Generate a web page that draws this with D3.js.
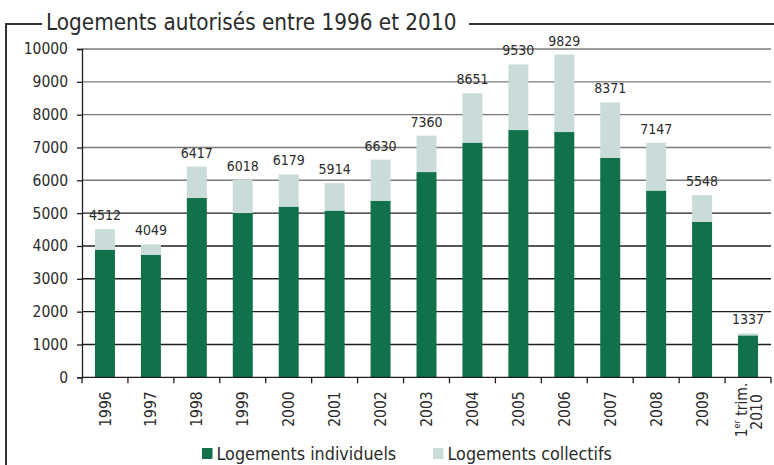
<!DOCTYPE html>
<html lang="fr">
  <head>
    <meta charset="UTF-8" />
    <title>Logements autorisés entre 1996 et 2010</title>
    <script src="https://d3js.org/d3.v7.min.js"></script>
    <style>
      body {
        margin: 0;
        background: #ffffff;
      }
      svg {
        font-family: "DejaVu Sans Condensed", "DejaVu Sans", sans-serif;
        fill: #2b2b2b;
      }
    </style>
  </head>
  <body>
    <div id="chart"></div>
    <script>
      // Data
      const annees = ["1996", "1997", "1998", "1999", "2000", "2001", "2002", "2003",
        "2004", "2005", "2006", "2007", "2008", "2009", "2010"];
      const individuels = [3880, 3725, 5460, 5000, 5190, 5070, 5370, 6250,
        7140, 7530, 7470, 6680, 5680, 4730, 1270];
      const collectifs = [632, 324, 957, 1018, 989, 844, 1260, 1110,
        1511, 2000, 2359, 1691, 1467, 818, 67];
      const totaux = [4512, 4049, 6417, 6018, 6179, 5914, 6630, 7360,
        8651, 9530, 9829, 8371, 7147, 5548, 1337];
      const yTicks = [0, 1000, 2000, 3000, 4000, 5000, 6000, 7000, 8000, 9000, 10000];

      const colIndiv = "#11714a";
      const colCollec = "#c9dcd9";

      const width = 774, height = 465;
      const mLeft = 82, mRight = 771, mTop = 49, mBottom = 377.3;

      const svg = d3.select("#chart").append("svg")
        .attr("width", width).attr("height", height);

      // frame + title
      svg.append("path")
        .attr("d", "M6,465 V24 H42 M469,24 H774")
        .attr("fill", "none").attr("stroke", "#333").attr("stroke-width", 2);
      svg.append("text")
        .attr("x", 46).attr("y", 30)
        .attr("font-size", 22.3)
        .text("Logements autorisés entre 1996 et 2010");

      // scales
      const x = d3.scaleBand().domain(annees).range([mLeft, mRight])
        .paddingInner(0.565).paddingOuter(0.2825);
      const y = d3.scaleLinear().domain([0, 10000]).range([mBottom, mTop]);
      const step = x.step();

      // gridlines
      svg.append("g").selectAll("line").data(yTicks.filter(d => d > 0)).enter()
        .append("line")
        .attr("x1", mLeft).attr("x2", mRight)
        .attr("y1", d => y(d)).attr("y2", d => y(d))
        .attr("stroke", d => d >= 6000 ? "#7a7a7a" : "#1e1e1e")
        .attr("stroke-width", 1.4);

      // y axis
      const yAxis = svg.append("g")
        .attr("transform", `translate(${mLeft},0)`)
        .call(d3.axisLeft(y).tickValues(yTicks).tickSize(5).tickPadding(9).tickFormat(d3.format("d")));
      yAxis.select(".domain").attr("stroke", "#1e1e1e").attr("stroke-width", 1.3);
      yAxis.selectAll(".tick line").attr("stroke", "#1e1e1e").attr("stroke-width", 1.3);
      yAxis.selectAll("text").attr("font-size", 15.5).attr("fill", "#2b2b2b")
        .attr("font-family", "'DejaVu Sans Condensed', 'DejaVu Sans', sans-serif");

      // bars
      const rows = annees.map((a, i) => ({ a, ind: individuels[i], col: collectifs[i], tot: totaux[i] }));
      svg.append("g").selectAll("rect").data(rows).enter().append("rect")
        .attr("x", d => x(d.a)).attr("width", x.bandwidth())
        .attr("y", d => y(d.ind + d.col))
        .attr("height", d => y(d.ind) - y(d.ind + d.col))
        .attr("fill", colCollec);
      svg.append("g").selectAll("rect").data(rows).enter().append("rect")
        .attr("x", d => x(d.a)).attr("width", x.bandwidth())
        .attr("y", d => y(d.ind))
        .attr("height", d => y(0) - y(d.ind))
        .attr("fill", colIndiv);

      // total labels
      svg.append("g").selectAll("text").data(rows).enter().append("text")
        .attr("x", d => x(d.a) + x.bandwidth() / 2)
        .attr("y", d => y(d.ind + d.col) - 9)
        .attr("text-anchor", "middle")
        .attr("font-size", 14)
        .text(d => d.tot);

      // x axis line + ticks
      svg.append("line")
        .attr("x1", mLeft).attr("x2", mRight)
        .attr("y1", mBottom).attr("y2", mBottom)
        .attr("stroke", "#1e1e1e").attr("stroke-width", 1.3);
      svg.append("g").selectAll("line").data(d3.range(annees.length + 1)).enter()
        .append("line")
        .attr("x1", i => mLeft + i * step).attr("x2", i => mLeft + i * step)
        .attr("y1", mBottom).attr("y2", mBottom + 6)
        .attr("stroke", "#1e1e1e").attr("stroke-width", 1.3);

      // x labels (rotated)
      const cx = a => x(a) + x.bandwidth() / 2;
      svg.append("g").selectAll("text").data(annees.slice(0, -1)).enter().append("text")
        .attr("transform", d => `translate(${cx(d)},${mBottom + 14}) rotate(-90)`)
        .attr("text-anchor", "end")
        .attr("dy", "0.36em")
        .attr("font-size", 15.5)
        .text(d => d);

      const last = annees[annees.length - 1];
      const l1 = svg.append("text")
        .attr("transform", `translate(${cx(last) - 7},410) rotate(-90)`)
        .attr("text-anchor", "middle").attr("dy", "0.36em")
        .attr("font-size", 15.5);
      l1.append("tspan").text("1");
      l1.append("tspan").attr("font-size", 9).attr("dy", "-0.7em").text("er");
      l1.append("tspan").attr("dy", "0.45em").text(" trim.");
      svg.append("text")
        .attr("transform", `translate(${cx(last) + 8},412) rotate(-90)`)
        .attr("text-anchor", "middle").attr("dy", "0.36em")
        .attr("font-size", 15.5)
        .text(last);

      // legend
      const legend = [
        { label: "Logements individuels", color: colIndiv, x: 202 },
        { label: "Logements collectifs", color: colCollec, x: 433 }
      ];
      const lg = svg.append("g").selectAll("g").data(legend).enter().append("g")
        .attr("transform", d => `translate(${d.x},448)`);
      lg.append("rect").attr("width", 10.5).attr("height", 11).attr("fill", d => d.color);
      lg.append("text").attr("x", 14.5).attr("y", 11.5)
        .attr("font-size", 17.8)
        .text(d => d.label);
    </script>
  </body>
</html>
